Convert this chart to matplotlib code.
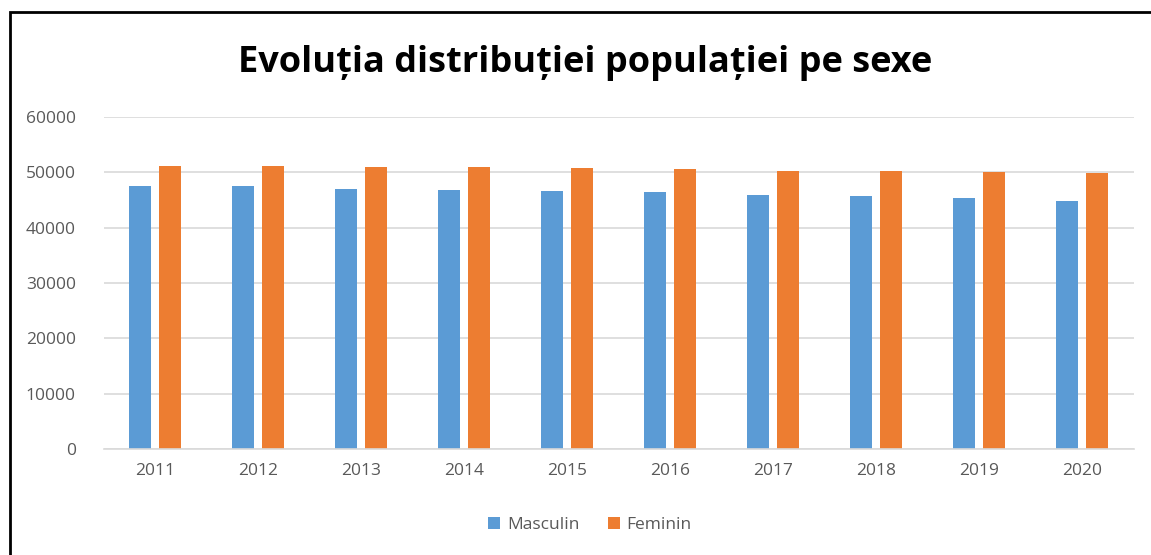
import numpy as np
import matplotlib.pyplot as plt
from matplotlib.patches import Rectangle

# date
ani = ['2011', '2012', '2013', '2014', '2015', '2016', '2017', '2018', '2019', '2020']
masculin = [47520, 47500, 47000, 46800, 46600, 46400, 45970, 45720, 45300, 44880]
feminin = [51140, 51130, 50880, 50880, 50870, 50640, 50230, 50230, 50050, 49820]

plt.rcParams['font.family'] = ['Open Sans', 'DejaVu Sans']

fig = plt.figure(figsize=(11.51, 5.55), dpi=100)
ax = fig.add_axes([103.5 / 1151, 1 - 449 / 555, 1030 / 1151, 332 / 555])

x = np.arange(len(ani))
w = 0.215
ax.bar(x - 0.148, masculin, w, color='#5b9bd5', label='Masculin')
ax.bar(x + 0.148, feminin, w, color='#ed7d31', label='Feminin')

ax.set_xlim(-0.5, len(ani) - 0.5)
ax.set_ylim(0, 60000)
ax.set_yticks(np.arange(0, 60001, 10000))
ax.set_xticks(x)
ax.set_xticklabels(ani)
ax.tick_params(length=0, labelsize=12.5, colors='#595959')
ax.tick_params(axis='x', pad=10)
ax.tick_params(axis='y', pad=20)
ax.grid(axis='y', color='#d9d9d9', linewidth=1.2)
ax.set_axisbelow(True)
for s in ['top', 'right', 'left']:
    ax.spines[s].set_visible(False)
ax.spines['bottom'].set_color('#d9d9d9')
ax.spines['bottom'].set_linewidth(1.2)

fig.text(585 / 1151, 1 - 63 / 555, 'Evoluția distribuției populației pe sexe',
         ha='center', va='center', fontsize=26, fontweight='bold', color='black')

leg = fig.legend(loc='center', bbox_to_anchor=(590 / 1151, 1 - 525 / 555), ncol=2,
                 frameon=False, fontsize=12.5, handlelength=0.7, handleheight=0.7,
                 columnspacing=1.6, handletextpad=0.4)
for t in leg.get_texts():
    t.set_color('#595959')

# chenar
fig.patches.append(Rectangle((10 / 1151, -0.1), 1.2, 1 - 12 / 555 + 0.1,
                             transform=fig.transFigure, fill=False,
                             edgecolor='black', linewidth=2))

fig.savefig('out.png', dpi=100)
